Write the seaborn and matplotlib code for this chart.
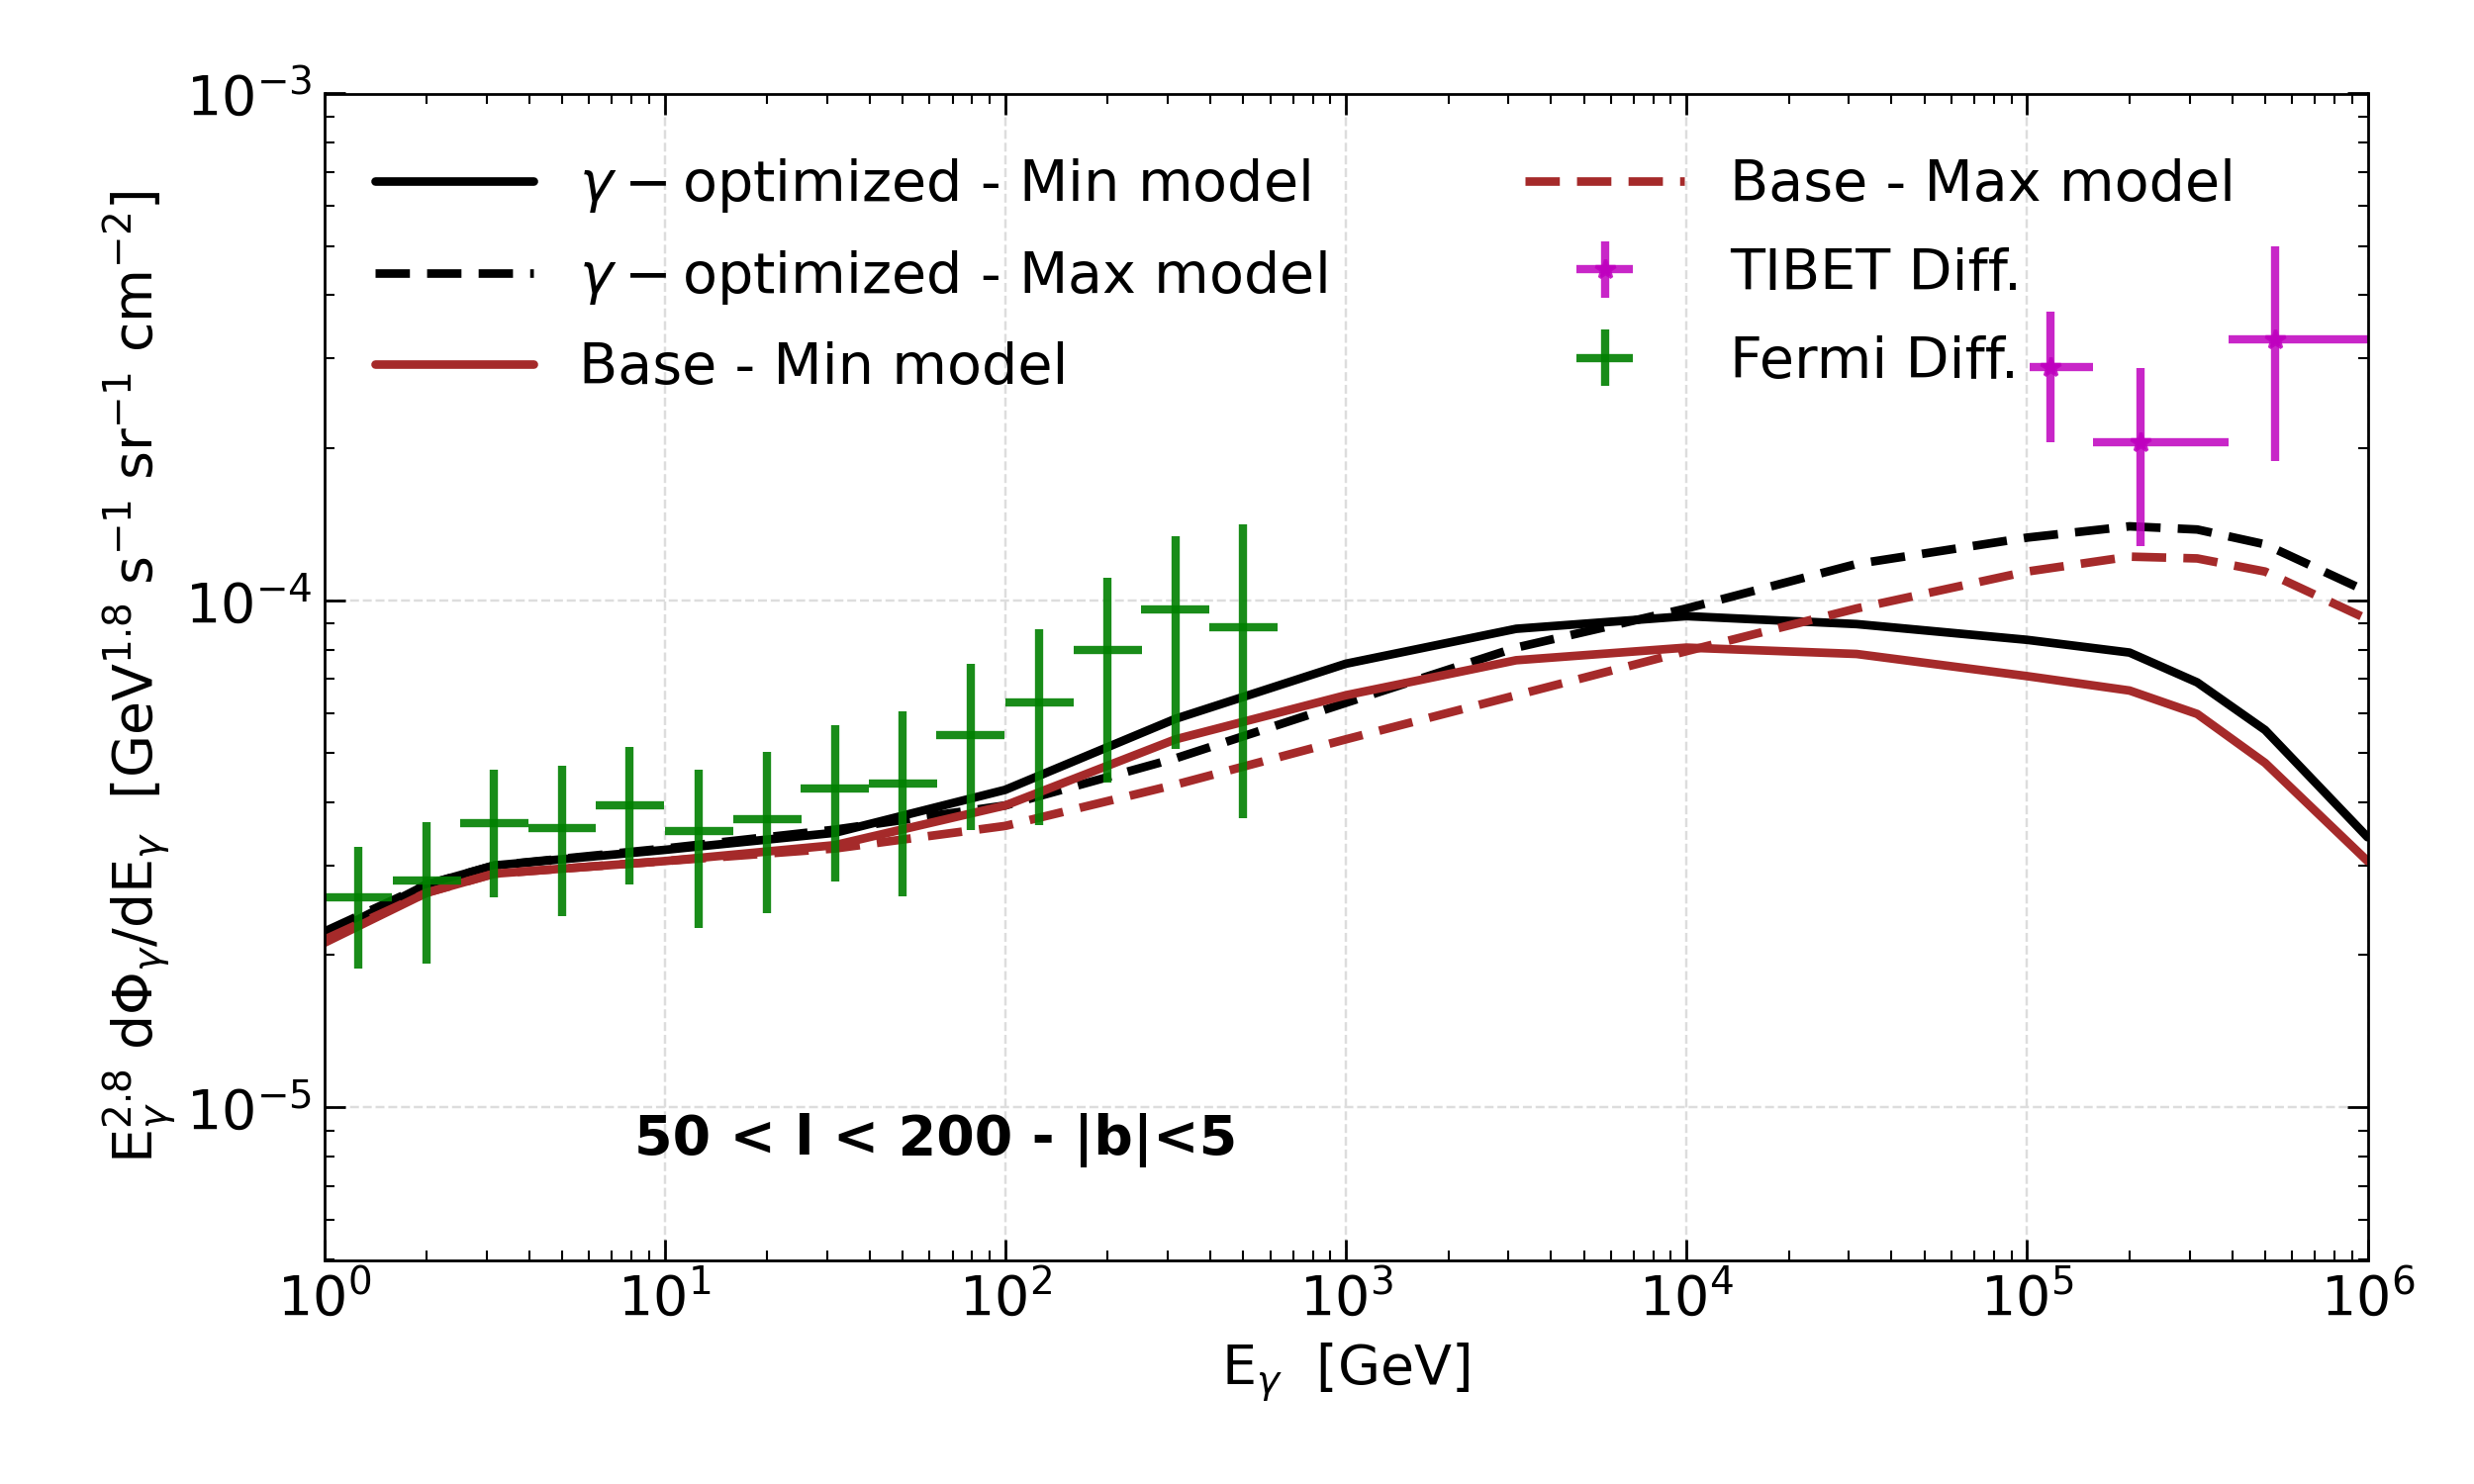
import numpy as np
import pandas as pd
import seaborn as sns
import matplotlib.pyplot as plt

sns.set_style("ticks")
plt.rcParams['font.family'] = ['DejaVu Sans']
plt.rcParams.update({"text.color": "black", "axes.labelcolor": "black",
                     "xtick.color": "black", "ytick.color": "black",
                     "axes.edgecolor": "black"})

# model curves
energy = [1, 2, 3.16, 10, 31.6, 100, 316, 1000, 3162, 1e4, 3.16e4, 1e5, 2e5, 3.16e5, 5e5, 1e6]
gamma_min = [2.17e-5, 2.75e-5, 3.0e-5, 3.22e-5, 3.48e-5, 4.23e-5, 5.84e-5, 7.5e-5, 8.79e-5,
             9.31e-5, 8.98e-5, 8.36e-5, 7.89e-5, 6.89e-5, 5.55e-5, 3.41e-5]
gamma_max = [2.22e-5, 2.75e-5, 3.0e-5, 3.24e-5, 3.53e-5, 3.94e-5, 4.88e-5, 6.28e-5, 8.07e-5,
             9.64e-5, 1.18e-4, 1.33e-4, 1.40e-4, 1.38e-4, 1.29e-4, 1.04e-4]
base_min = [2.11e-5, 2.65e-5, 2.89e-5, 3.06e-5, 3.29e-5, 3.94e-5, 5.32e-5, 6.5e-5, 7.62e-5,
            8.07e-5, 7.84e-5, 7.09e-5, 6.64e-5, 5.97e-5, 4.78e-5, 3.06e-5]
base_max = [2.14e-5, 2.65e-5, 2.89e-5, 3.06e-5, 3.24e-5, 3.59e-5, 4.33e-5, 5.32e-5, 6.5e-5,
            7.94e-5, 9.64e-5, 1.14e-4, 1.22e-4, 1.21e-4, 1.14e-4, 9.18e-5]

# Fermi diffuse
fermi_e = [1.26, 2, 3.16, 5, 7.9, 12.6, 20, 31.6, 50, 79, 126, 200, 316, 500]
fermi_f = [2.6e-5, 2.8e-5, 3.64e-5, 3.56e-5, 3.94e-5, 3.5e-5, 3.7e-5, 4.26e-5, 4.35e-5,
           5.43e-5, 6.28e-5, 8.0e-5, 9.58e-5, 8.85e-5]
fermi_hi = [3.27e-5, 3.66e-5, 4.64e-5, 4.71e-5, 5.13e-5, 4.64e-5, 5.02e-5, 5.67e-5, 6.05e-5,
            7.5e-5, 8.79e-5, 1.11e-4, 1.34e-4, 1.41e-4]
fermi_lo = [1.88e-5, 1.92e-5, 2.6e-5, 2.38e-5, 2.75e-5, 2.26e-5, 2.42e-5, 2.79e-5, 2.61e-5,
            3.53e-5, 3.61e-5, 4.38e-5, 5.1e-5, 3.72e-5]

# TIBET diffuse
tibet_e = [1.17e5, 2.15e5, 5.36e5]
tibet_elo = [1.02e5, 1.56e5, 3.9e5]
tibet_ehi = [1.56e5, 3.9e5, 1e6]
tibet_f = [2.89e-4, 2.05e-4, 3.27e-4]
tibet_hi = [3.72e-4, 2.87e-4, 5.0e-4]
tibet_lo = [2.05e-4, 1.28e-4, 1.88e-4]

fig = plt.figure(figsize=(10, 6), dpi=250)
ax = fig.add_axes([0.131, 0.151, 0.826, 0.786])

df = pd.DataFrame({"E": energy, "gmin": gamma_min, "gmax": gamma_max,
                   "bmin": base_min, "bmax": base_max})
sns.lineplot(data=df, x="E", y="gmin", ax=ax, color="black", lw=2.5,
             label=r"$\gamma-$optimized - Min model")
sns.lineplot(data=df, x="E", y="gmax", ax=ax, color="black", lw=2.5, ls=(0, (4, 2)),
             label=r"$\gamma-$optimized - Max model")
sns.lineplot(data=df, x="E", y="bmin", ax=ax, color="#a52a2a", lw=2.5,
             label="Base - Min model")
sns.lineplot(data=df, x="E", y="bmax", ax=ax, color="#a52a2a", lw=2.5, ls=(0, (4, 2)),
             label="Base - Max model")

tf = np.array(tibet_f)
te = np.array(tibet_e)
ax.errorbar(te, tf, xerr=[te - np.array(tibet_elo), np.array(tibet_ehi) - te],
            yerr=[tf - np.array(tibet_lo), np.array(tibet_hi) - tf],
            fmt="*", color="m", ms=6, lw=2.4, label="TIBET Diff.", alpha=0.85)
ff = np.array(fermi_f)
fe = np.array(fermi_e)
ax.errorbar(fe, ff, xerr=[fe - fe / 10**0.1, fe * 10**0.1 - fe],
            yerr=[ff - np.array(fermi_lo), np.array(fermi_hi) - ff],
            fmt="none", color="green", lw=2.4, label="Fermi Diff.", alpha=0.9)

ax.set_xscale("log")
ax.set_yscale("log")
ax.set_xlim(1, 1e6)
ax.set_ylim(5e-6, 1e-3)
ax.grid(True, ls="--", color="#dddddd", lw=0.7)
ax.tick_params(which="both", direction="in", top=True, right=True, labelsize=16)
ax.tick_params(which="major", length=6)
ax.tick_params(which="minor", length=3)
ax.set_xlabel(r"E$_{\gamma}$  [GeV]", fontsize=16)
ax.set_ylabel(r"E$_{\gamma}^{2.8}$ d$\Phi_{\gamma}$/dE$_{\gamma}$  [GeV$^{1.8}$ s$^{-1}$ sr$^{-1}$ cm$^{-2}$]",
              fontsize=16, labelpad=2)
ax.text(0.152, 0.09, "50 < l < 200 - |b|<5", transform=ax.transAxes,
        fontsize=16, fontweight="bold")

h, l = ax.get_legend_handles_labels()
ax.legend(h, l, ncol=2, frameon=False, fontsize=16.5, loc="upper left",
          bbox_to_anchor=(0.0, 0.99), handlelength=2.8, columnspacing=3.5,
          labelspacing=0.6)

fig.savefig("out.png", dpi=250)
